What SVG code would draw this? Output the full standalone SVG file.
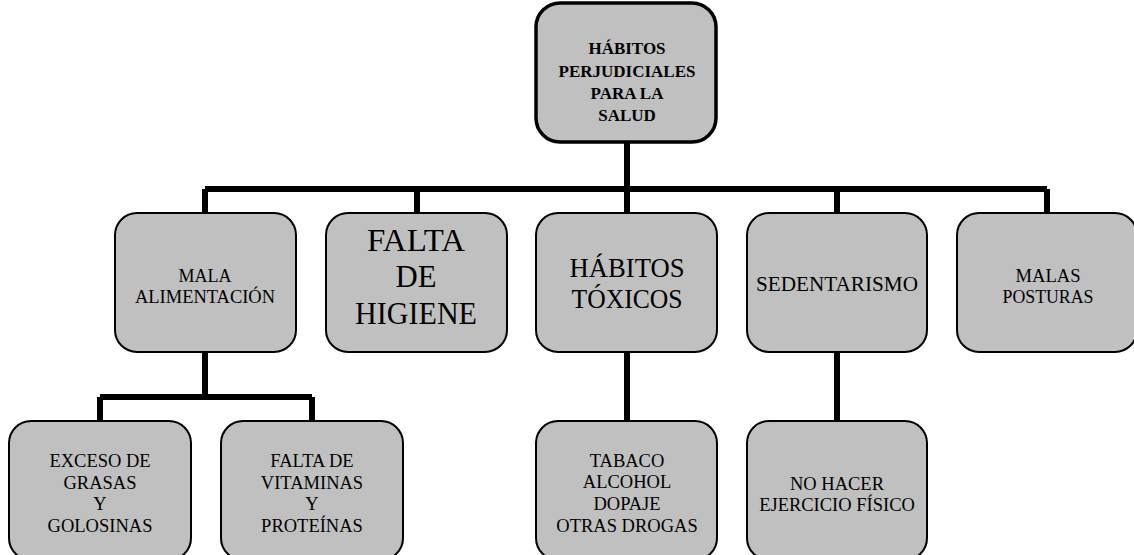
<svg xmlns="http://www.w3.org/2000/svg" width="1134" height="555" viewBox="0 0 1134 555">
<style>
.box{fill:#c0c0c0;stroke:#000;stroke-width:2}
.root{fill:#c0c0c0;stroke:#000;stroke-width:3.5}
.con{fill:none;stroke:#000;stroke-width:6;stroke-linecap:butt;stroke-linejoin:miter}
text{font-family:'Liberation Serif','Times New Roman',Times,Tinos,'DejaVu Serif','Noto Serif',FreeSerif,serif;fill:#000;text-anchor:middle}
.b{font-weight:bold;font-size:17px}
.s{font-size:18.5px}
.m{font-size:19px}
.l{font-size:28px}
.xl{font-size:32px}
</style>
<rect width="1134" height="555" fill="#fff"/>
<g id="connectors">
<path class="con" d="M627 143V189M205 189H1047M205 189V213M417 189V213M627 189V213M837 189V213M1047 189V213"/>
<path class="con" d="M205 352V397M100 397H312M100 397V421M312 397V421"/>
<path class="con" d="M627 352V421M837 352V421"/>
</g>
<g id="root">
<rect class="root" x="536" y="3" width="180" height="139" rx="24"/>
<text class="b" x="627" y="54">HÁBITOS</text>
<text class="b" x="627" y="77">PERJUDICIALES</text>
<text class="b" x="627" y="99">PARA LA</text>
<text class="b" x="627" y="121">SALUD</text>
</g>
<g id="mala-alimentacion">
<rect class="box" x="115" y="213" width="181" height="139" rx="22"/>
<text class="m" x="205" y="282" textLength="53" lengthAdjust="spacingAndGlyphs">MALA</text>
<text class="m" x="205" y="303" textLength="140" lengthAdjust="spacingAndGlyphs">ALIMENTACIÓN</text>
</g>
<g id="falta-higiene">
<rect class="box" x="326" y="213" width="181" height="139" rx="22"/>
<text class="xl" x="416" y="251" textLength="98" lengthAdjust="spacingAndGlyphs">FALTA</text>
<text class="xl" x="416" y="287" textLength="41" lengthAdjust="spacingAndGlyphs">DE</text>
<text class="xl" x="416" y="324" textLength="122" lengthAdjust="spacingAndGlyphs">HIGIENE</text>
</g>
<g id="habitos-toxicos">
<rect class="box" x="536" y="213" width="181" height="139" rx="22"/>
<text class="l" x="627" y="277" textLength="115" lengthAdjust="spacingAndGlyphs">HÁBITOS</text>
<text class="l" x="627" y="308" textLength="111" lengthAdjust="spacingAndGlyphs">TÓXICOS</text>
</g>
<g id="sedentarismo">
<rect class="box" x="747" y="213" width="180" height="139" rx="22"/>
<text x="837" y="291" style="font-size:21px" textLength="162" lengthAdjust="spacingAndGlyphs">SEDENTARISMO</text>
</g>
<g id="malas-posturas">
<rect class="box" x="957" y="213" width="180" height="139" rx="22"/>
<text class="m" x="1048" y="282" textLength="65" lengthAdjust="spacingAndGlyphs">MALAS</text>
<text class="m" x="1048" y="303" textLength="91" lengthAdjust="spacingAndGlyphs">POSTURAS</text>
</g>
<g id="exceso-grasas">
<rect class="box" x="9" y="421" width="182" height="139" rx="22"/>
<text class="s" x="100" y="467">EXCESO DE</text>
<text class="s" x="100" y="489">GRASAS</text>
<text class="s" x="100" y="510">Y</text>
<text class="s" x="100" y="532">GOLOSINAS</text>
</g>
<g id="falta-vitaminas">
<rect class="box" x="221" y="421" width="182" height="139" rx="22"/>
<text class="s" x="312" y="467">FALTA DE</text>
<text class="s" x="312" y="489">VITAMINAS</text>
<text class="s" x="312" y="510">Y</text>
<text class="s" x="312" y="532">PROTEÍNAS</text>
</g>
<g id="tabaco">
<rect class="box" x="536" y="421" width="181" height="139" rx="22"/>
<text class="s" x="627" y="467">TABACO</text>
<text class="s" x="627" y="488">ALCOHOL</text>
<text class="s" x="627" y="510">DOPAJE</text>
<text class="s" x="627" y="532">OTRAS DROGAS</text>
</g>
<g id="no-hacer-ejercicio">
<rect class="box" x="747" y="421" width="180" height="139" rx="22"/>
<text class="s" x="837" y="490">NO HACER</text>
<text class="s" x="837" y="511">EJERCICIO FÍSICO</text>
</g>
</svg>
